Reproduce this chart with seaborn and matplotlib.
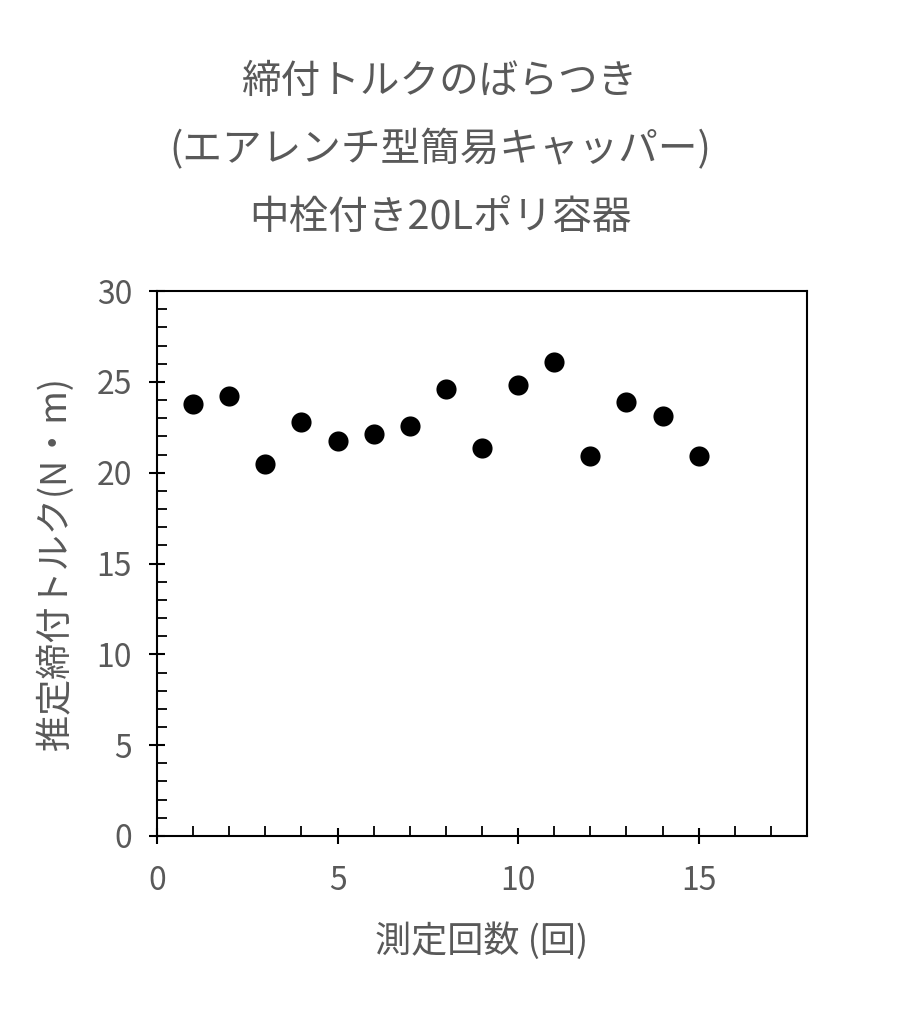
import matplotlib
matplotlib.use("Agg")
import matplotlib.pyplot as plt
from matplotlib.ticker import MultipleLocator
import seaborn as sns
import pandas as pd

# measurement number and estimated torque
count = [1, 2, 3, 4, 5, 6, 7, 8, 9, 10, 11, 12, 13, 14, 15]
torque = [23.8, 24.2, 20.5, 22.8, 21.75, 22.15, 22.55, 24.6, 21.35, 24.85, 26.1, 20.9, 23.9, 23.1, 20.9]

title_lines = ["締付トルクのばらつき", "(エアレンチ型簡易キャッパー)", "中栓付き20Lポリ容器"]
xlabel = "測定回数 (回)"
ylabel = "推定締付トルク(N・m)"

df = pd.DataFrame({"count": count, "torque": torque})

sns.set_style("white")
plt.rcParams["font.family"] = ["Noto Sans CJK JP", "DejaVu Sans"]
gray = "#595959"

fig = plt.figure(figsize=(9.04, 10.24), dpi=100)
ax = fig.add_axes([0.1737, 0.1836, 0.719, 0.5322])

sns.scatterplot(data=df, x="count", y="torque", ax=ax, color="black", s=210,
                edgecolor="black", linewidth=0, legend=False)

ax.set_xlim(0, 18)
ax.set_ylim(0, 30)
ax.xaxis.set_major_locator(MultipleLocator(5))
ax.xaxis.set_minor_locator(MultipleLocator(1))
ax.yaxis.set_major_locator(MultipleLocator(5))
ax.yaxis.set_minor_locator(MultipleLocator(1))
ax.tick_params(which="major", direction="inout", length=12, width=1.5,
               color="black", labelsize=23, labelcolor=gray)
ax.tick_params(axis="x", which="major", pad=15)
ax.tick_params(axis="y", which="major", pad=12)
ax.tick_params(which="minor", direction="in", length=7, width=1.3, color="black")
ax.tick_params(axis="x", which="both", bottom=True)
ax.tick_params(axis="y", which="both", left=True)
for sp in ax.spines.values():
    sp.set_color("black")
    sp.set_linewidth(1.5)

ax.set_xlabel(xlabel, fontsize=26, color=gray, labelpad=18)
ax.set_ylabel(ylabel, fontsize=26, color=gray, labelpad=16)

for i, line in enumerate(title_lines):
    fig.text(0.487, 1 - (82 + i * 68) / 1024, line, ha="center", va="center",
             fontsize=28.5, color=gray)

fig.savefig("out.png", dpi=100)
